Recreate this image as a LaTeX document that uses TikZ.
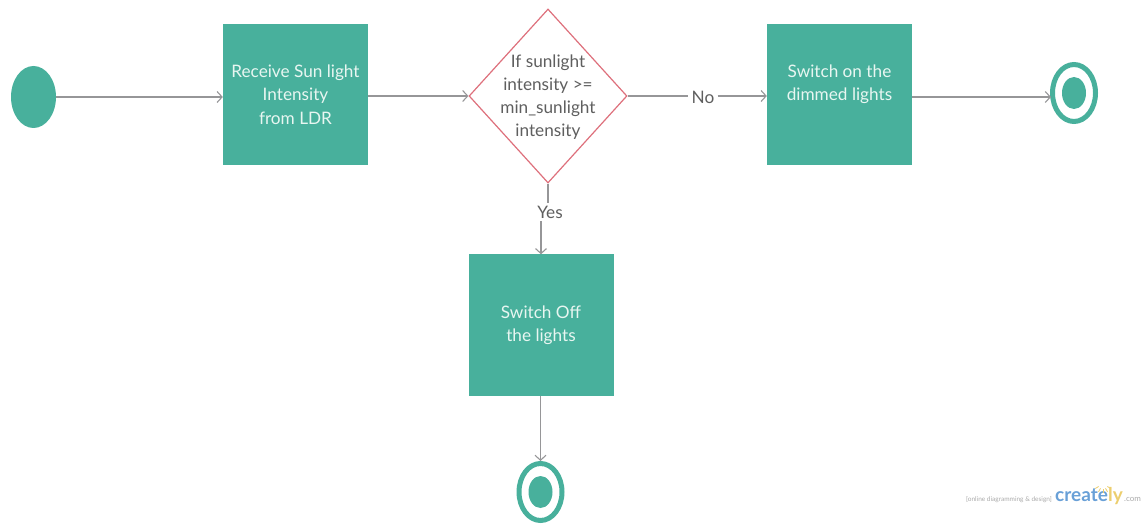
\documentclass[tikz,border=0pt]{standalone}
\usepackage{fontspec}
\setmainfont{Lato}
\usetikzlibrary{arrows.meta,shapes.geometric}
\definecolor{teal}{RGB}{72,176,156}
\definecolor{boxtext}{RGB}{232,246,241}
\definecolor{conn}{RGB}{150,150,152}
\definecolor{dstroke}{RGB}{222,112,124}
\definecolor{dtextc}{RGB}{95,95,95}
\definecolor{wmgray}{RGB}{170,170,170}
\definecolor{wmblue}{RGB}{105,160,215}
\definecolor{wmyellow}{RGB}{236,206,110}
\begin{document}
\begin{tikzpicture}[x=1pt,y=-1pt,
  stepbox/.style={rectangle, fill=teal, minimum width=145pt, minimum height=141pt,
    inner sep=0pt, text=boxtext, align=center, font=\fontsize{17.2}{23.3}\selectfont},
  dia/.style={diamond, draw=dstroke, line width=1.2pt, fill=white,
    minimum width=158pt, minimum height=174pt, inner sep=0pt},
  diatext/.style={text=dtextc, align=center, font=\fontsize{17.2}{23}\selectfont, inner sep=0pt},
  startnode/.style={ellipse, fill=teal, minimum width=45pt, minimum height=62pt, inner sep=0pt},
  endouter/.style={ellipse, draw=teal, line width=5pt, fill=white, minimum width=43pt, minimum height=57pt, inner sep=0pt},
  endinner/.style={ellipse, fill=teal, minimum width=24pt, minimum height=32pt, inner sep=0pt},
  conn/.style={draw=conn, line width=1.1pt, -{Straight Barb[length=5pt,width=11pt,line width=1.1pt]}},
  plain/.style={draw=conn, line width=1.1pt},
  lbl/.style={fill=white, text=dtextc, inner sep=3pt, font=\fontsize{17.2}{20}\selectfont}
]
\useasboundingbox (0,0) rectangle (1146,529);

\node[startnode] (s) at (33.5,97) {};
\node[stepbox] (b1) at (295.5,94.5) {Receive Sun light\\Intensity\\from LDR};
\node[dia] (d) at (548,96) {};
\node[diatext] (dt) at (548,97) {If sunlight\\intensity >=\\min\_sunlight\\intensity};
\node[stepbox] (b2) at (839.5,94.5) {Switch on the\\dimmed lights\\~};
\node[endouter] (e1) at (1074,93) {};
\node[endinner] (e1i) at (1074,93) {};
\coordinate (e1in) at (1051,97);
\node[stepbox] (b3) at (541,325) {Switch Off\\the lights};
\node[endouter] (e2) at (540.5,492) {};
\node[endinner] (e2i) at (540.5,492) {};

\node[lbl] (no) at (703,97) {No};
\node[lbl] (yes) at (550,212) {Yes};

\draw[conn] (s.east) -- (b1.west |- s.east);
\draw[conn] (b1.east |- d.west) -- (d.west);
\draw[plain] (d.east) -- (no.west |- d.east);
\draw[conn] (no.east |- d.east) -- (b2.west |- d.east);
\draw[conn] (b2.east |- e1in) -- (e1in);
\draw[plain] (d.south) -- (d.south |- yes.north);
\draw[conn] (yes.south -| b3.north) -- (b3.north);
\draw[conn] (b3.south -| e2.north) -- (e2.north);

% watermark
\node[anchor=base east, text=wmgray, font=\fontsize{6.5}{8}\selectfont, inner sep=0pt] (wm1) at (1052,501) {[online diagramming \& design]};
\node[anchor=base west, text=wmblue, font=\bfseries\fontsize{19}{22}\selectfont, inner sep=0pt] (wm2) at (1055,501) {creat\textcolor{wmblue}{e}\textcolor{wmyellow}{ly}};
\node[anchor=base west, text=wmgray, font=\fontsize{8}{9}\selectfont, inner sep=1pt] (wm3) at (wm2.base east) {.com};
\foreach \a in {30,60,90,120,150}
  \draw[wmyellow, line width=0.8pt] (1103,484) ++(\a:-4) ++(\a:9) -- ++(\a:4);
\end{tikzpicture}
\end{document}
